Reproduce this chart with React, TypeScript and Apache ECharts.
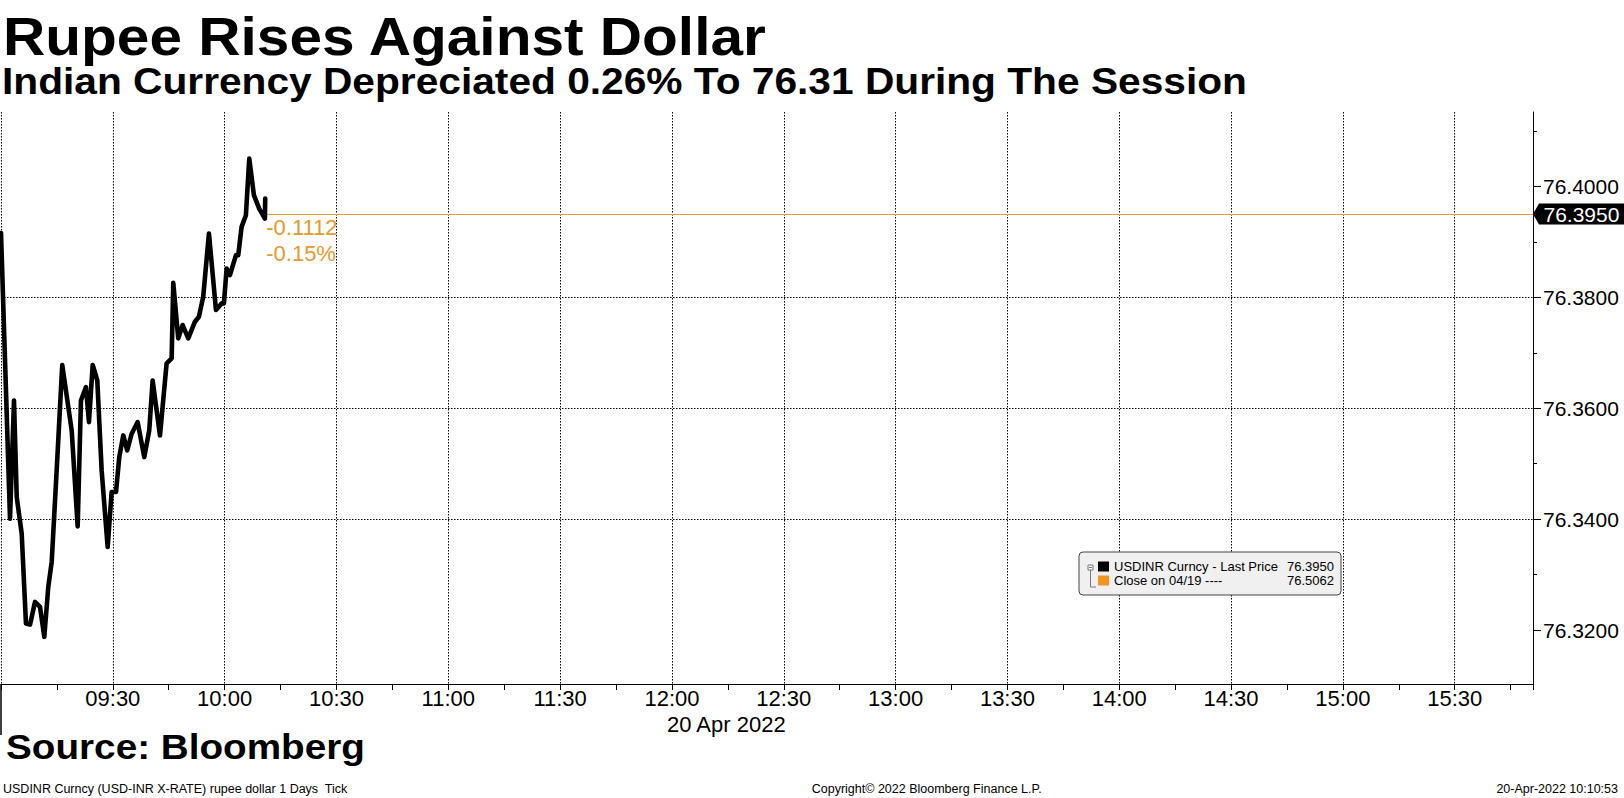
import React, { useEffect, useRef } from "react";
import * as echarts from "echarts";

// ---- Data ----
const times: string[] = [
  "09:00:00", "09:02:25", "09:03:29", "09:04:13", "09:05:33", "09:06:42", "09:07:47", "09:09:07", "09:10:28", "09:11:37",
  "09:12:41", "09:13:36", "09:14:56", "09:16:26", "09:18:58", "09:20:34", "09:21:27", "09:22:48", "09:23:36", "09:24:36",
  "09:25:50", "09:27:00", "09:28:37", "09:29:41", "09:30:51", "09:31:44", "09:32:48", "09:33:52", "09:35:03", "09:36:40",
  "09:38:26", "09:39:46", "09:40:41", "09:42:39", "09:44:26", "09:45:47", "09:46:13", "09:47:33", "09:48:44", "09:50:14",
  "09:52:02", "09:53:06", "09:54:15", "09:55:47", "09:57:40", "09:59:11", "09:59:48", "10:00:32", "10:01:25", "10:03:02",
  "10:03:39", "10:04:33", "10:05:42", "10:06:36", "10:07:51", "10:09:16", "10:10:48", "10:10:53",
];
const prices: number[] = [
  76.3916, 76.3401, 76.3614, 76.344, 76.3374, 76.3212, 76.321, 76.3251, 76.3242, 76.3188,
  76.3278, 76.3323, 76.3488, 76.3678, 76.356, 76.3387, 76.3614, 76.3638, 76.3575, 76.3678,
  76.365, 76.3488, 76.335, 76.3449, 76.3449, 76.3512, 76.3551, 76.3524, 76.3554, 76.3575,
  76.3512, 76.356, 76.365, 76.3551, 76.3681, 76.369, 76.3826, 76.3726, 76.375, 76.3726,
  76.3756, 76.3765, 76.3801, 76.3915, 76.3777, 76.3789, 76.3789, 76.3852, 76.384, 76.3876,
  76.3876, 76.3927, 76.3948, 76.405, 76.3984, 76.396, 76.3942, 76.3978,
];
const seriesNames: string[] = ["USDINR Curncy - Last Price", "Close on 04/19 ----"];
const legendValues: number[] = [76.395, 76.5062];
const lastPrice = 76.395;
const netChangeText = "-0.1112";
const pctChangeText = "-0.15%";
const sessionStart = "09:00"; // x axis min
const sessionEnd = "15:51"; // x axis max
const yMin = 76.3103;
const yMax = 76.4134;
const yMajorTicks: number[] = [76.32, 76.34, 76.36, 76.38, 76.4];
const yMinorTicks: number[] = [76.33, 76.35, 76.37, 76.39, 76.41];

const titleText = "Rupee Rises Against Dollar";
const subtitleText = "Indian Currency Depreciated 0.26% To 76.31 During The Session";
const sourceText = "Source: Bloomberg";
const footerLeft = "USDINR Curncy (USD-INR X-RATE) rupee dollar 1 Days  Tick";
const footerMid = "Copyright\u00A9 2022 Bloomberg Finance L.P.";
const footerRight = "20-Apr-2022 10:10:53";
const dateLabel = "20 Apr 2022";

// ---- helpers ----
const toMin = (t: string) => {
  const p = t.split(":").map(Number);
  return p[0] * 60 + p[1] + (p[2] || 0) / 60;
};
const pad = (n: number) => (n < 10 ? "0" + n : "" + n);
const fmtTime = (v: number) => {
  const h = Math.floor(v / 60);
  const m = Math.round(v - h * 60);
  return pad(h) + ":" + pad(m);
};

const FONT = "'Liberation Sans', Arial, sans-serif";
const ORANGE_LINE = "#E69A2E";
const ORANGE_ICON = "#F0961E";
const W = 1624;
const H = 798;

export default function App() {
  const ref = useRef<HTMLDivElement>(null);

  useEffect(() => {
    if (!ref.current) return;
    const chart = echarts.init(ref.current, undefined, { renderer: "svg" });
    const xMin = toMin(sessionStart);
    const xMax = toMin(sessionEnd);
    const lastMin = toMin(times[times.length - 1]);
    const data = times.map((t, i) => [toMin(t), prices[i]]);

    const dotted = { color: "#000", width: 1, type: [1.5, 1.5] as any };

    chart.setOption({
      animation: false,
      backgroundColor: "#fff",
      textStyle: { fontFamily: FONT },
      grid: { left: 1, right: 91, top: 112, bottom: 114, containLabel: false },
      legend: {
        show: true,
        selectedMode: false,
        orient: "vertical",
        left: 1079,
        top: 552,
        padding: [8, 7, 8, 19],
        itemGap: 1,
        itemWidth: 11,
        itemHeight: 10,
        icon: "rect",
        backgroundColor: "#F0F0F0",
        borderColor: "#444",
        borderWidth: 1,
        borderRadius: 4,
        data: seriesNames,
        formatter: (name: string) => {
          const i = seriesNames.indexOf(name);
          return "{n|" + name + "}{v|" + legendValues[i].toFixed(4) + "}";
        },
        textStyle: {
          fontFamily: FONT,
          fontSize: 13,
          color: "#000",
          rich: {
            n: { width: 172, fontSize: 13, lineHeight: 15, fontFamily: FONT, color: "#000" },
            v: { width: 48, align: "right", fontSize: 13, lineHeight: 15, fontFamily: FONT, color: "#000" },
          },
        },
      },
      xAxis: [
        {
          type: "value",
          min: xMin,
          max: xMax,
          interval: 30,
          position: "bottom",
          axisLine: { show: true, onZero: false, lineStyle: { color: "#000", width: 1 } },
          axisTick: { show: false },
          axisLabel: {
            show: true,
            formatter: (v: number) => fmtTime(v),
            showMinLabel: false,
            showMaxLabel: false,
            fontSize: 22,
            fontFamily: FONT,
            color: "#000",
            margin: 3,
          },
          splitLine: { show: true, showMaxLine: false, lineStyle: dotted },
        },
        {
          type: "value",
          min: xMin,
          max: xMax,
          interval: 15,
          position: "bottom",
          axisLine: { show: false, onZero: false },
          axisTick: { show: true, length: 6, lineStyle: { color: "#000", width: 1 } },
          axisLabel: { show: false },
          splitLine: { show: false },
        },
      ],
      yAxis: [
        {
          type: "value",
          position: "right",
          min: yMin,
          max: yMax,
          splitNumber: 5,
          minInterval: 0.02,
          maxInterval: 0.02,
          axisLine: { show: true, onZero: false, lineStyle: { color: "#000", width: 1 } },
          axisTick: {
            show: true,
            length: 8,
            customValues: yMajorTicks,
            lineStyle: { color: "#000", width: 1 },
          },
          axisLabel: {
            show: true,
            formatter: (v: number) => v.toFixed(4),
            showMinLabel: false,
            showMaxLabel: false,
            fontSize: 21,
            fontFamily: FONT,
            color: "#000",
            margin: 10,
          },
          splitLine: { show: true, showMinLine: false, showMaxLine: false, lineStyle: dotted },
        },
        {
          type: "value",
          position: "right",
          min: yMin,
          max: yMax,
          splitNumber: 10,
          minInterval: 0.01,
          maxInterval: 0.01,
          axisLine: { show: false, onZero: false },
          axisTick: {
            show: true,
            length: 4,
            customValues: yMinorTicks,
            lineStyle: { color: "#000", width: 1 },
          },
          axisLabel: { show: false },
          splitLine: { show: false },
        },
      ],
      series: [
        {
          name: seriesNames[0],
          type: "line",
          xAxisIndex: 0,
          yAxisIndex: 0,
          data,
          symbol: "none",
          showSymbol: false,
          silent: true,
          color: "#000",
          itemStyle: { color: "#000" },
          lineStyle: { color: "#000", width: 4.6, join: "round", cap: "round" },
          z: 5,
          markLine: {
            silent: true,
            symbol: ["none", "none"],
            label: { show: false },
            lineStyle: { color: ORANGE_LINE, width: 1, type: "solid" },
            emphasis: { disabled: true },
            data: [[{ coord: [lastMin, lastPrice] }, { coord: [xMax, lastPrice] }]],
          },
        },
        {
          name: seriesNames[1],
          type: "line",
          xAxisIndex: 0,
          yAxisIndex: 0,
          data: [],
          symbol: "none",
          color: ORANGE_ICON,
          itemStyle: { color: ORANGE_ICON },
          lineStyle: { color: ORANGE_ICON },
        },
      ],
    });

    const yPx = chart.convertToPixel({ yAxisIndex: 0 }, lastPrice) as number;
    const xEnd = chart.convertToPixel({ xAxisIndex: 0 }, xMax) as number;
    const xStart = chart.convertToPixel({ xAxisIndex: 0 }, xMin) as number;
    const xLast = chart.convertToPixel({ xAxisIndex: 0 }, lastMin) as number;
    const yBottom = chart.convertToPixel({ yAxisIndex: 0 }, yMin) as number;

    const txt = (text: string, x: number, y: number, size: number, opts: any = {}) => ({
      type: "text",
      x,
      y,
      scaleX: opts.scaleX || 1,
      silent: true,
      style: {
        text,
        fill: opts.fill || "#000",
        fontSize: size,
        fontWeight: opts.bold ? "bold" : "normal",
        fontFamily: FONT,
        align: opts.align || "left",
        verticalAlign: opts.va || "middle",
        lineHeight: opts.lineHeight,
      },
    });

    chart.setOption({
      graphic: [
        txt(titleText, 3, 36.3, 54, { bold: true, scaleX: 1.085 }),
        txt(subtitleText, 2, 81.5, 37, { bold: true, scaleX: 1.1 }),
        txt(sourceText, 6, 746.8, 36, { bold: true, scaleX: 1.075 }),
        txt(footerLeft, 3, 789, 12.5),
        txt(footerMid, 926.7, 789, 12.5, { align: "center" }),
        txt(footerRight, 1618, 789, 12.5, { align: "right" }),
        txt(dateLabel, 726.3, 724.1, 22, { align: "center" }),
        // change annotation under the last-price line
        txt(netChangeText + "\n" + pctChangeText, xLast + 1, yPx, 22, {
          fill: ORANGE_LINE,
          va: "top",
          lineHeight: 26,
        }),
        // last price tag on the axis
        {
          type: "polygon",
          silent: true,
          shape: {
            points: [
              [xEnd, yPx],
              [xEnd + 6, yPx - 10.5],
              [W, yPx - 10.5],
              [W, yPx + 10.5],
              [xEnd + 6, yPx + 10.5],
            ],
          },
          style: { fill: "#000" },
          z: 10,
        },
        { ...txt(lastPrice.toFixed(4), xEnd + 10.5, yPx, 21, { fill: "#fff" }), z: 11 },
        // session separator below the axis at the left edge
        {
          type: "line",
          silent: true,
          shape: { x1: xStart, y1: yBottom, x2: xStart, y2: yBottom + 51 },
          style: { stroke: "#000", lineWidth: 1.5 },
        },
        // legend tree glyph
        {
          type: "rect",
          silent: true,
          shape: { x: 1088, y: 565, width: 5, height: 5 },
          style: { fill: "#fff", stroke: "#777", lineWidth: 1 },
          z: 20,
        },
        {
          type: "line",
          silent: true,
          shape: { x1: 1089, y1: 567.5, x2: 1092, y2: 567.5 },
          style: { stroke: "#777", lineWidth: 1 },
          z: 21,
        },
        {
          type: "polyline",
          silent: true,
          shape: { points: [[1090.5, 570], [1090.5, 587], [1096, 587]] },
          style: { stroke: "#777", lineWidth: 1, fill: "none" },
          z: 20,
        },
      ],
    });

    return () => chart.dispose();
  }, []);

  return (
    <div
      ref={ref}
      style={{ position: "fixed", left: 0, top: 0, width: W, height: H, background: "#fff" }}
    />
  );
}
